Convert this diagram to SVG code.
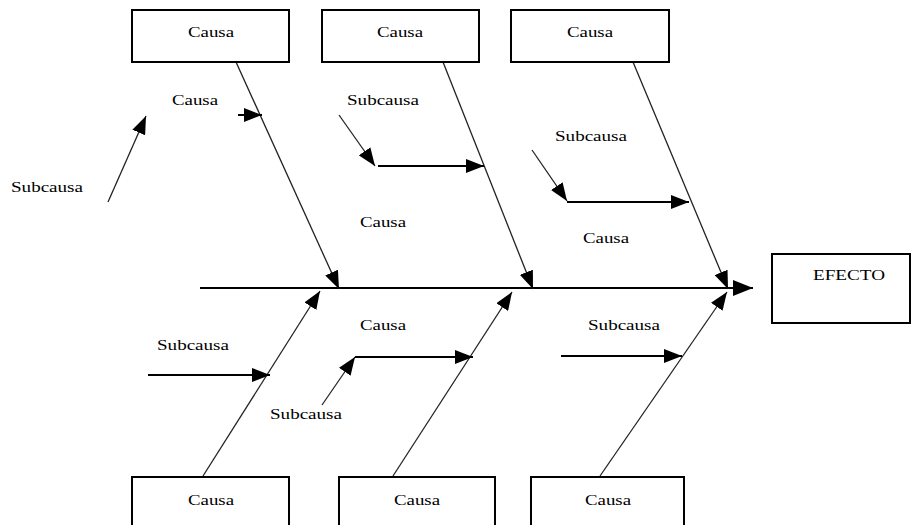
<svg xmlns="http://www.w3.org/2000/svg" width="912" height="525" viewBox="0 0 912 525">
<style>
.box{fill:#fff;stroke:#000;stroke-width:2}
.t{font-family:"Liberation Serif","Times New Roman",serif;font-size:14px;fill:#000}
.bone{stroke:#222;stroke-width:1.3;fill:none}
.arr{stroke:#000;stroke-width:2;fill:none}
.spine{stroke:#000;stroke-width:2;fill:none}
</style>
<defs>
<marker id="ah" markerUnits="userSpaceOnUse" markerWidth="20" markerHeight="16" refX="20" refY="8" orient="auto" viewBox="0 0 20 16">
<path d="M0,0 L20,8 L0,16 z" fill="#000"/>
</marker>
<marker id="ahs" markerUnits="userSpaceOnUse" markerWidth="18" markerHeight="14" refX="18" refY="7" orient="auto" viewBox="0 0 18 14">
<path d="M0,0 L18,7 L0,14 z" fill="#000"/>
</marker>
</defs>
<rect width="912" height="525" fill="#fff"/>
<g id="connectors">
<line class="spine" x1="200" y1="288" x2="753" y2="288" marker-end="url(#ah)"/>
<line class="bone" x1="236" y1="62" x2="339" y2="289" marker-end="url(#ahs)"/>
<line class="bone" x1="443" y1="62" x2="533" y2="289" marker-end="url(#ahs)"/>
<line class="bone" x1="633" y1="62" x2="728" y2="289" marker-end="url(#ahs)"/>
<line class="bone" x1="203" y1="476" x2="320" y2="291" marker-end="url(#ahs)"/>
<line class="bone" x1="393" y1="476" x2="512" y2="292" marker-end="url(#ahs)"/>
<line class="bone" x1="600" y1="476" x2="727" y2="292" marker-end="url(#ahs)"/>
<line class="arr" x1="238" y1="115" x2="262" y2="115" marker-end="url(#ahs)"/>
<line class="bone" x1="108" y1="202" x2="146" y2="116" marker-end="url(#ahs)"/>
<line class="bone" x1="339" y1="115" x2="375" y2="166" marker-end="url(#ahs)"/>
<line class="arr" x1="378" y1="166" x2="484" y2="166" marker-end="url(#ahs)"/>
<line class="bone" x1="532" y1="150" x2="567" y2="201" marker-end="url(#ahs)"/>
<line class="arr" x1="567" y1="202" x2="689" y2="202" marker-end="url(#ahs)"/>
<line class="arr" x1="148" y1="375" x2="270" y2="375" marker-end="url(#ahs)"/>
<line class="bone" x1="322" y1="405" x2="355" y2="357" marker-end="url(#ahs)"/>
<line class="arr" x1="355" y1="357" x2="473" y2="357" marker-end="url(#ahs)"/>
<line class="arr" x1="561" y1="356" x2="682" y2="356" marker-end="url(#ahs)"/>
</g>
<g id="causa-top-1"><rect class="box" x="132" y="10" width="157" height="52"/><text class="t" x="188" y="37" textLength="46" lengthAdjust="spacingAndGlyphs">Causa</text></g>
<g id="causa-top-2"><rect class="box" x="322" y="10" width="157" height="52"/><text class="t" x="377" y="37" textLength="46" lengthAdjust="spacingAndGlyphs">Causa</text></g>
<g id="causa-top-3"><rect class="box" x="511" y="10" width="158" height="52"/><text class="t" x="567" y="37" textLength="46" lengthAdjust="spacingAndGlyphs">Causa</text></g>
<g id="causa-bottom-1"><rect class="box" x="132" y="477" width="157" height="60"/><text class="t" x="188" y="505" textLength="46" lengthAdjust="spacingAndGlyphs">Causa</text></g>
<g id="causa-bottom-2"><rect class="box" x="339" y="477" width="156" height="60"/><text class="t" x="394" y="505" textLength="46" lengthAdjust="spacingAndGlyphs">Causa</text></g>
<g id="causa-bottom-3"><rect class="box" x="531" y="477" width="153" height="60"/><text class="t" x="585" y="505" textLength="46" lengthAdjust="spacingAndGlyphs">Causa</text></g>
<g id="efecto"><rect class="box" x="772" y="254" width="138" height="69"/><text class="t" x="813" y="280" textLength="72" lengthAdjust="spacingAndGlyphs">EFECTO</text></g>
<g id="labels">
<text class="t" x="172" y="105" textLength="46" lengthAdjust="spacingAndGlyphs">Causa</text>
<text class="t" x="11" y="192" textLength="72" lengthAdjust="spacingAndGlyphs">Subcausa</text>
<text class="t" x="347" y="105" textLength="72" lengthAdjust="spacingAndGlyphs">Subcausa</text>
<text class="t" x="360" y="227" textLength="46" lengthAdjust="spacingAndGlyphs">Causa</text>
<text class="t" x="555" y="141" textLength="72" lengthAdjust="spacingAndGlyphs">Subcausa</text>
<text class="t" x="583" y="243" textLength="46" lengthAdjust="spacingAndGlyphs">Causa</text>
<text class="t" x="157" y="350" textLength="72" lengthAdjust="spacingAndGlyphs">Subcausa</text>
<text class="t" x="360" y="330" textLength="46" lengthAdjust="spacingAndGlyphs">Causa</text>
<text class="t" x="270" y="419" textLength="72" lengthAdjust="spacingAndGlyphs">Subcausa</text>
<text class="t" x="588" y="330" textLength="72" lengthAdjust="spacingAndGlyphs">Subcausa</text>
</g>
</svg>
